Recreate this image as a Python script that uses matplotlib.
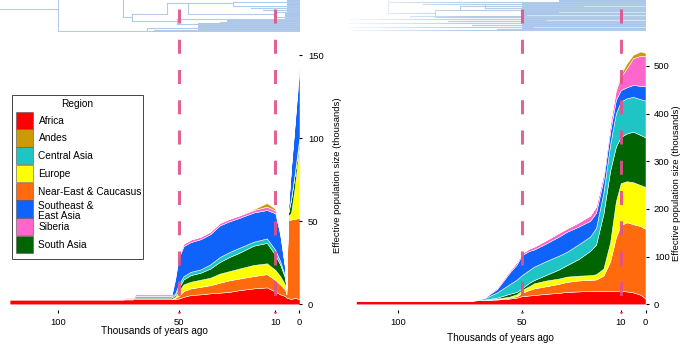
import matplotlib
matplotlib.use('Agg')
import matplotlib.pyplot as plt
import numpy as np
from matplotlib.patches import Rectangle

plt.rcParams['font.family'] = ['Liberation Sans', 'DejaVu Sans']

# ---- regions and colours ----
legend_regions = ['Africa', 'Andes', 'Central Asia', 'Europe', 'Near-East & Caucasus',
                  'Southeast & East Asia', 'Siberia', 'South Asia']
legend_text = ['Africa', 'Andes', 'Central Asia', 'Europe', 'Near-East & Caucasus',
               'Southeast &\nEast Asia', 'Siberia', 'South Asia']
region_colors = {
    'Africa': '#ff0000',
    'Andes': '#cc9a06',
    'Central Asia': '#1fc4c4',
    'Europe': '#ffff00',
    'Near-East & Caucasus': '#ff6a0f',
    'Southeast & East Asia': '#0f62fa',
    'Siberia': '#ff66cc',
    'South Asia': '#006400',
}
stack_order = ['Africa', 'Near-East & Caucasus', 'Europe', 'South Asia', 'Central Asia',
               'Southeast & East Asia', 'Siberia', 'Andes']

# ---- left panel: effective population size (thousands) per region ----
left_time = [120, 73, 72, 69, 68, 53, 51.5, 50, 48, 45, 41, 37, 33, 29, 25, 19, 13.5,
             10, 8, 6, 5.4, 4.8, 3.5, 2, 0]
left_sizes = {
    'Africa':                [3, 3, 3, 3, 3.2, 3.2, 3.2, 3.5, 4.5, 5.6, 6, 6.6, 7, 7.5, 8.5, 9.6, 10.2,
                              7.6, 6, 5, 4, 4, 3, 4, 3],
    'Near-East & Caucasus':  [0, 0, 0, 0, 0, 0, 0.6, 1.5, 3.5, 4, 4.5, 4.9, 6, 7, 7, 7.4, 8,
                              7, 6, 4, 2, 47, 48, 47.5, 49],
    'Europe':                [0, 0, 0, 0, 0, 0, 0.7, 3, 4, 4, 4.3, 4.5, 5.5, 5.5, 6, 6.7, 6.5,
                              6.1, 5, 3, 2.5, 2, 4, 18.5, 45],
    'South Asia':            [0, 0, 0.4, 0.4, 0.8, 0.8, 1, 2, 3, 4, 4.2, 5.5, 7, 8.5, 9.5, 11.6, 12.3,
                              9, 7, 4, 1, 1, 8, 8, 3],
    'Central Asia':          [0, 0, 0.4, 0.4, 0.8, 0.8, 1, 2, 2, 2, 2, 2.5, 3, 3, 3, 2.4, 2.7,
                              3, 2, 1, 0.5, 0.3, 0.5, 0.5, 1],
    'Southeast & East Asia': [0, 0, 0, 0, 0.4, 0.4, 8.5, 16, 18, 17.9, 18.2, 18.2, 19, 18.5, 18, 17.6, 17.1,
                              22.1, 16, 5, 0.5, 1.7, 18.5, 29.5, 42],
    'Siberia':               [0, 0, 0.4, 0.4, 0.8, 0.8, 1.5, 1.5, 1.5, 1.5, 1.5, 1.5, 1.5, 1.5, 1.5, 1.5, 2,
                              1.7, 1, 0.5, 0, 0.3, 1, 2, 4],
    'Andes':                 [0, 0, 0, 0, 0, 0, 0, 0, 0, 0, 0, 0, 0, 0, 0, 0.4, 2.2,
                              1, 0.5, 0, 0, 0, 0, 0, 2],
}

# ---- right panel ----
right_time = [117, 70, 65, 60, 55, 52, 50, 47, 45, 40, 35, 31.8, 27, 22.4, 20, 17, 14.3,
              12, 10, 7.6, 5, 2, 0]
right_sizes = {
    'Africa':                [8, 8, 9, 10, 12, 14, 17, 18.5, 19.5, 22, 24, 26, 27, 28, 28, 28, 28,
                              28, 28, 27, 25, 20, 12],
    'Near-East & Caucasus':  [0, 0, 0.3, 1, 2, 3, 7, 11.5, 14, 16, 19, 21, 23, 23, 24, 32, 62,
                              112, 138, 145, 143, 144, 146],
    'Europe':                [0, 0, 0.2, 1, 2, 4, 6, 8, 10.5, 12, 11, 11, 10, 10, 11, 15, 40,
                              75, 88, 86, 88, 86, 88],
    'South Asia':            [0, 0, 0.5, 2, 6, 5, 3.5, 7, 7, 12, 19, 24, 35, 51, 62, 115, 150,
                              115, 97, 100, 106, 105, 104],
    'Central Asia':          [0, 0, 3, 11, 20, 26, 27.5, 27, 28, 29, 29, 28, 31, 30, 35, 45, 55,
                              70, 74, 74, 73, 75, 77],
    'Southeast & East Asia': [0, 0, 1, 7, 24, 32, 42, 40, 36, 37, 40, 42, 37, 33, 32, 27, 27,
                              28, 24, 23, 25, 28, 30],
    'Siberia':               [0, 0, 1, 3, 4, 5, 4, 5, 6, 7, 8, 7, 9, 11, 13, 13, 16,
                              20, 28, 40, 56, 63, 63],
    'Andes':                 [0, 0, 0, 0, 0, 0, 0, 0, 0, 0, 0, 0, 0, 0, 0, 0, 1,
                              3, 5, 10, 7, 9, 7],
}

# ---- trees above the panels: branch segments (start ka, end ka, row) ----
left_tree_h = [(124.6, 99.7, 22.7), (99.7, 0, 1.0), (63, 0, 3.7), (72.8, 69.3, 15.3),
               (69.3, 54.9, 17.7), (69.3, 50.7, 11.3), (54.9, 46, 28.7), (46, 10.1, 17.7),
               (46, 27.5, 28.7), (27.5, 0, 30.5), (27.5, 0, 26.5), (50.7, 0, 13.3),
               (50.7, 0, 8.0), (10.1, 0, 20.5), (10.1, 0, 15.0), (40, 0, 6.0), (33, 0, 10.0),
               (20, 0, 24.0), (15, 0, 22.0), (60, 0, 2.5)]
left_tree_v = [(99.7, 1.0, 32), (63, 1.0, 3.7), (72.8, 15.3, 32), (69.3, 11.3, 17.7),
               (54.9, 17.7, 28.7), (46, 17.7, 28.7), (27.5, 26.5, 30.5), (50.7, 8.0, 13.3),
               (10.1, 15.0, 20.5)]
left_tree_dense = [(42, 0.5, 9), (30, 9, 12), (6, 12, 20), (5, 20, 32)]

right_tree_h = [(104, 85, 18.7), (104, 0, 30.3), (85, 0, 22), (85, 0, 15), (120, 0, 13),
                (120, 0, 9), (120, 0, 5), (118, 0, 2), (95, 0, 16), (80, 0, 11), (70, 0, 7),
                (60, 0, 3.5), (75, 0, 26), (65, 0, 24.5), (90, 0, 28)]
right_tree_v = [(104, 18.7, 32), (85, 15, 22), (75, 22, 26), (65, 24.5, 28)]
right_tree_dense = [(50, 1, 29), (35, 29, 32)]
right_tree_gaps = [(45, 0, 5), (40, 0, 12), (35, 0, 20), (25, 0, 26), (48, 0, 17)]

W, H = 684, 344


def px_box(x0, y0, x1, y1):
    return [x0 / W, 1 - y1 / H, (x1 - x0) / W, (y1 - y0) / H]


def draw_tree(ax, hsegs, vsegs, dense, gaps, xlim):
    line_col = '#b3cbe6'
    for t0, t1, y in hsegs:
        ax.plot([t0, t1], [y, y], color=line_col, lw=0.8)
    for t, y0, y1 in vsegs:
        ax.plot([t, t], [y0, y1], color=line_col, lw=0.8)
    for t0, y0, y1 in dense:
        ax.fill_between([t0, 0], y0, y1, color='#a9c7ee', lw=0)
    for t0, t1, y in gaps:
        ax.plot([t0, t1], [y, y], color='#d6e4f6', lw=0.7)
    ax.set_xlim(*xlim)
    ax.set_ylim(0, 32)
    ax.axis('off')


def draw_panel(ax, times, sizes, xlim, ylim, yticks, dash_top, dash_bot):
    base = np.zeros(len(times))
    for reg in stack_order:
        vals = np.array(sizes[reg], dtype=float)
        ax.fill_between(times, base, base + vals, facecolor=region_colors[reg],
                        edgecolor='white', linewidth=0.35)
        base = base + vals
    for t in [50, 10]:
        line, = ax.plot([t, t], [dash_top, dash_bot], color='#e2508a', lw=2.2, alpha=0.9,
                        clip_on=False, zorder=5)
        line.set_dashes((4.6, 5.3))
    ax.set_xlim(*xlim)
    ax.set_ylim(*ylim)
    ax.set_facecolor('none')
    for s in ax.spines.values():
        s.set_visible(False)
    ax.yaxis.tick_right()
    ax.yaxis.set_label_position('right')
    ax.set_yticks(yticks)
    ax.set_xticks([100, 50, 10, 0])
    ax.tick_params(axis='both', length=2.5, width=0.8, labelsize=6.8, pad=3.5)
    ax.set_xlabel('Thousands of years ago', fontsize=7.2)
    ax.set_ylabel('Effective population size (thousands)', fontsize=6.8)


fig = plt.figure(figsize=(W / 100, H / 100), dpi=100)

# trees first so the panels (and dashed lines) sit on top
tree_l = fig.add_axes(px_box(0, 0, 299.5, 32))
draw_tree(tree_l, left_tree_h, left_tree_v, left_tree_dense, [], (123.8, 0))
tree_r = fig.add_axes(px_box(348.5, 0, 645.5, 32))
draw_tree(tree_r, right_tree_h, right_tree_v, right_tree_dense, right_tree_gaps, (120, 0))
fade = np.ones((1, 100, 4))
fade[0, :, 3] = np.linspace(0.9, 0.0, 100)
tree_r.imshow(fade, extent=[120, 70, 0, 32], aspect='auto', zorder=10)
tree_r.set_xlim(120, 0)
tree_r.set_ylim(0, 32)

ax_l = fig.add_axes(px_box(9.6, 35, 299.5, 310))
draw_panel(ax_l, left_time, left_sizes, (120, 0), (-3.43, 162.2), [0, 50, 100, 150],
           177.9, -5.2)
ax_l.yaxis.set_label_coords(1.115, 0.49)
ax_l.xaxis.set_label_coords(0.5, -0.058)

ax_r = fig.add_axes(px_box(356, 35, 645.5, 310))
draw_panel(ax_r, right_time, right_sizes, (117, 0), (-11.95, 564.6),
           [0, 100, 200, 300, 400, 500], 619, -18.2)
ax_r.yaxis.set_label_coords(1.09, 0.46)
ax_r.xaxis.set_label_coords(0.5, -0.084)

# ---- legend box drawn in pixel coordinates ----
tr = fig.transFigure


def fx(x):
    return x / W


def fy(y):
    return 1 - y / H


fig.patches.append(Rectangle((fx(11.7), fy(259)), (143.3 - 11.7) / W, (259 - 95) / H,
                             transform=tr, facecolor='white', edgecolor='#444444', lw=0.7,
                             zorder=20))
fig.text(fx(77.5), fy(104), 'Region', ha='center', va='center', fontsize=7.3, zorder=21)
row_h = 17.75
for i, (reg, lab) in enumerate(zip(legend_regions, legend_text)):
    top = 111.7 + i * row_h
    fig.patches.append(Rectangle((fx(15.7), fy(top + row_h - 0.6)), 17.6 / W, (row_h - 0.6) / H,
                                 transform=tr, facecolor=region_colors[reg],
                                 edgecolor='#555555', lw=0.4, zorder=21))
    yc = top + row_h / 2 + (1.8 if '\n' in lab else 0)
    fig.text(fx(38.5), fy(yc), lab, ha='left', va='center', fontsize=7.3,
             linespacing=1.0, zorder=22)

fig.savefig('out.png', dpi=100)
